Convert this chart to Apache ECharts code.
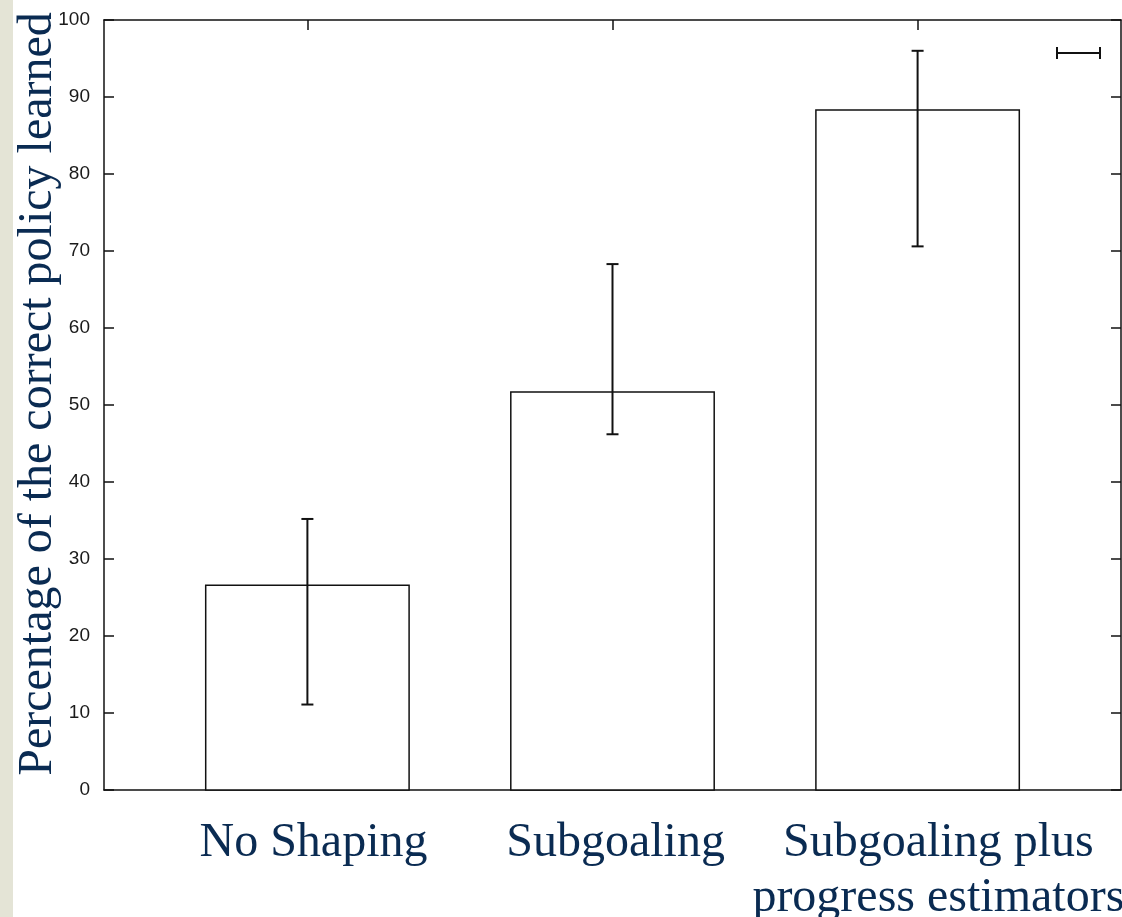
<!DOCTYPE html>
<html>
<head>
<meta charset="utf-8">
<script src="https://cdn.jsdelivr.net/npm/echarts@6/dist/echarts.min.js"></script>
<style>
html,body{margin:0;padding:0;background:#fff;}
#chart{width:1122px;height:917px;}
</style>
</head>
<body>
<div id="chart"></div>
<script>
const categories = ['No Shaping', 'Subgoaling', 'Subgoaling plus\nprogress estimators'];
const catPositions = [0, 1, 2];
const means = [26.6, 51.7, 88.3];
const lows = [11.1, 46.2, 70.6];
const highs = [35.2, 68.3, 96.0];
const yTicks = [0, 10, 20, 30, 40, 50, 60, 70, 80, 90, 100];

const textColor = '#0a2b52';
const BAR_HALF = 1 / 3;
// small horizontal nudges of the category captions (layout only)
const labelNudge = [0.02, 0.01, 0.068];
const labelAnchors = catPositions.map((x, i) => x + labelNudge[i]);

const chart = echarts.init(document.getElementById('chart'), null, {renderer: 'canvas'});

const barData = catPositions.map((x, i) => [x, means[i]]);
const errData = catPositions.map((x, i) => [x, lows[i], highs[i]]);

const lineStyle = {color: '#111', width: 1.5};

const option = {
  animation: false,
  backgroundColor: '#fff',
  grid: {left: 104, top: 20, right: 1, bottom: 127, containLabel: false, outerBoundsMode: 'none'},
  xAxis: [
    {
      type: 'value', position: 'bottom', min: -2 / 3, max: 8 / 3,
      splitLine: {show: false},
      axisLine: {show: true, onZero: false, lineStyle: lineStyle},
      axisTick: {show: true, inside: true, length: 12, customValues: catPositions, lineStyle: lineStyle},
      axisLabel: {
        show: true, customValues: labelAnchors, margin: 26, hideOverlap: false,
        showMinLabel: true, showMaxLabel: true,
        fontFamily: 'Liberation Serif', fontSize: 48, color: textColor, lineHeight: 55,
        formatter: function (v) {
          return categories[Math.round(v)];
        }
      }
    },
    {
      type: 'value', position: 'top', min: -2 / 3, max: 8 / 3,
      splitLine: {show: false},
      axisLine: {show: true, onZero: false, lineStyle: lineStyle},
      axisTick: {show: true, inside: true, length: 10, customValues: catPositions, lineStyle: lineStyle},
      axisLabel: {show: false}
    }
  ],
  yAxis: [
    {
      type: 'value', position: 'left', min: 0, max: 100, interval: 10,
      splitLine: {show: false},
      axisLine: {show: true, onZero: false, lineStyle: lineStyle},
      axisTick: {show: true, inside: true, length: 10, lineStyle: lineStyle},
      axisLabel: {
        show: true, margin: 14, color: '#1a1a1a',
        fontFamily: 'Liberation Sans', fontSize: 19,
        formatter: v => String(yTicks[yTicks.indexOf(v)])
      },
      name: 'Percentage of the correct policy learned',
      nameLocation: 'middle', nameRotate: 90, nameGap: 42, nameMoveOverlap: false,
      nameTextStyle: {fontFamily: 'Liberation Serif', fontSize: 48, color: textColor, padding: [0, 0, 0, 22]}
    },
    {
      type: 'value', position: 'right', min: 0, max: 100, interval: 10,
      splitLine: {show: false},
      axisLine: {show: true, onZero: false, lineStyle: lineStyle},
      axisTick: {show: true, inside: true, length: 10, lineStyle: lineStyle},
      axisLabel: {show: false}
    }
  ],
  graphic: [
    {type: 'rect', z: -10, shape: {x: 0, y: 0, width: 13, height: 917}, style: {fill: '#e4e4d6'}},
    {type: 'group', z: 10, children: [
      {type: 'line', shape: {x1: 1057, y1: 53, x2: 1100, y2: 53}, style: {stroke: '#111', lineWidth: 2}},
      {type: 'line', shape: {x1: 1057, y1: 47, x2: 1057, y2: 59}, style: {stroke: '#111', lineWidth: 2}},
      {type: 'line', shape: {x1: 1100, y1: 47, x2: 1100, y2: 59}, style: {stroke: '#111', lineWidth: 2}}
    ]}
  ],
  series: [
    {
      type: 'custom', xAxisIndex: 0, yAxisIndex: 0, data: barData, z: 2,
      renderItem: function (params, api) {
        const x = api.value(0), v = api.value(1);
        const p1 = api.coord([x - BAR_HALF, v]);
        const p2 = api.coord([x + BAR_HALF, 0]);
        return {
          type: 'rect',
          shape: {x: p1[0], y: p1[1], width: p2[0] - p1[0], height: p2[1] - p1[1]},
          style: {fill: '#fff', stroke: '#111', lineWidth: 1.5}
        };
      }
    },
    {
      type: 'custom', xAxisIndex: 0, yAxisIndex: 0, data: errData, z: 3,
      renderItem: function (params, api) {
        const x = api.value(0);
        const lo = api.coord([x, api.value(1)]);
        const hi = api.coord([x, api.value(2)]);
        const cap = 6;
        const st = {stroke: '#111', lineWidth: 2};
        return {
          type: 'group',
          children: [
            {type: 'line', shape: {x1: lo[0], y1: lo[1], x2: hi[0], y2: hi[1]}, style: st},
            {type: 'line', shape: {x1: lo[0] - cap, y1: lo[1], x2: lo[0] + cap, y2: lo[1]}, style: st},
            {type: 'line', shape: {x1: hi[0] - cap, y1: hi[1], x2: hi[0] + cap, y2: hi[1]}, style: st}
          ]
        };
      }
    }
  ]
};
chart.setOption(option);
</script>
</body>
</html>
